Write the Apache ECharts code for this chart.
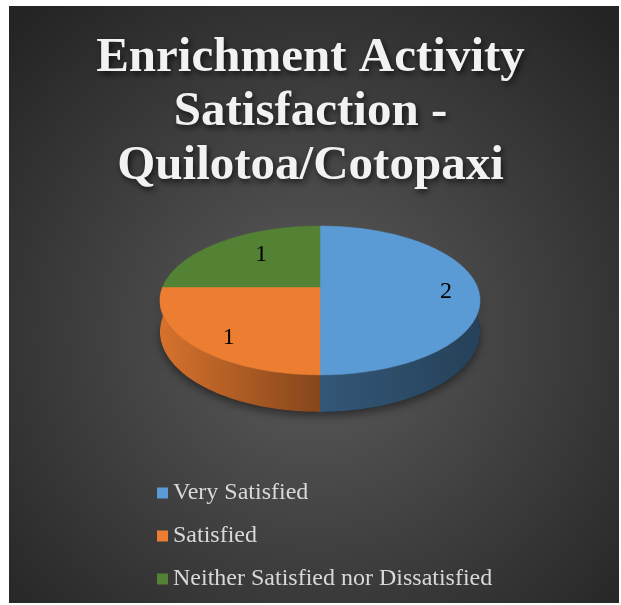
<!DOCTYPE html>
<html>
<head>
<meta charset="utf-8">
<script src="https://cdn.jsdelivr.net/npm/echarts@6/dist/echarts.min.js"></script>
<style>
  html, body { margin: 0; padding: 0; background: #fff; }
  #main { width: 621px; height: 605px; }
</style>
</head>
<body>
<div id="main"></div>
<script>
var titleLines = ['Enrichment Activity', 'Satisfaction -', 'Quilotoa/Cotopaxi'];
var categories = ['Very Satisfied', 'Satisfied', 'Neither Satisfied nor Dissatisfied'];
var counts = [2, 1, 1];
var sliceColors = ['#5B9BD5', '#ED7D31', '#548235'];

var serif = 'Liberation Serif';
var chart = echarts.init(document.getElementById('main'));

// tilted disc, a little perspective so the front half looks bigger
var cx = 320, cy = 287, R = 157.4, RY = 72, P = 0.181, DEPTH = 30.3;
var total = counts.reduce(function (a, b) { return a + b; }, 0);

function proj(theta, r, down) {
  var sn = Math.sin(theta) * r;
  var s = 1 / (1 - P * sn);
  return [cx + R * Math.cos(theta) * r * s, cy + RY * sn * s + (down || 0) * s];
}

function shade(hex, f) {
  var n = parseInt(hex.slice(1), 16);
  var r = Math.round(((n >> 16) & 255) * f);
  var g = Math.round(((n >> 8) & 255) * f);
  var b = Math.round((n & 255) * f);
  return 'rgb(' + r + ',' + g + ',' + b + ')';
}

function arcPoints(a0, a1, down) {
  var pts = [];
  var n = Math.max(2, Math.ceil(Math.abs(a1 - a0) / 0.03));
  for (var k = 0; k <= n; k++) {
    pts.push(proj(a0 + (a1 - a0) * k / n, 1, down));
  }
  return pts;
}

function makeRender(i) {
  return function (params, api) {
    var v = api.value(0);
    var before = 0;
    for (var k = 0; k < i; k++) before += counts[k];
    var a0 = -Math.PI / 2 + 2 * Math.PI * before / total;
    var a1 = a0 + 2 * Math.PI * v / total;
    var color = sliceColors[i];
    var children = [];

    // front wall, only where the rim faces the viewer
    [[0, Math.PI], [2 * Math.PI, 3 * Math.PI]].forEach(function (rng) {
      var s0 = Math.max(a0, rng[0]), s1 = Math.min(a1, rng[1]);
      if (s1 - s0 < 1e-6) return;
      var pts = arcPoints(s0, s1, 0).concat(arcPoints(s1, s0, DEPTH));
      children.push({
        type: 'polygon', z2: 0, shape: { points: pts },
        style: { fill: 'rgba(0,0,0,0.55)', shadowBlur: 10, shadowColor: 'rgba(0,0,0,0.85)', shadowOffsetY: 4 }
      });
      children.push({
        type: 'polygon', z2: 1, shape: { points: pts },
        style: {
          fill: {
            type: 'linear', global: true, x: cx - R, y: 0, x2: cx + R, y2: 0,
            colorStops: [
              { offset: 0, color: shade(color, 0.9) },
              { offset: 0.5, color: shade(color, 0.56) },
              { offset: 1, color: shade(color, 0.42) }
            ]
          }
        }
      });
    });

    // top face
    var top = [[cx, cy]].concat(arcPoints(a0, a1, 0));
    children.push({
      type: 'polygon', z2: 2, shape: { points: top },
      style: { fill: color, stroke: color, lineWidth: 0.5 }
    });

    var mid = (a0 + a1) / 2;
    var lp = proj(mid, 0.8, 0);
    // excel pulls the back-left labels a bit toward the middle
    var pull = Math.sin(mid) < 0 && Math.cos(mid) < 0 ? 22 : (Math.cos(mid) < 0 ? 8 : 0);
    children.push({
      type: 'text', z2: 3, x: lp[0] + pull, y: lp[1] + 5,
      style: {
        text: String(v), fill: '#000', fontFamily: serif, fontSize: 24,
        align: 'center', verticalAlign: 'middle',
        textAlign: 'center', textVerticalAlign: 'middle'
      }
    });

    return { type: 'group', children: children };
  };
}

var option = {
  animation: false,
  color: sliceColors,
  textStyle: { fontFamily: serif },
  graphic: [{
    type: 'rect', z: -10, shape: { x: 9, y: 6, width: 610, height: 597 },
    style: {
      fill: {
        type: 'radial', x: 0.5, y: 0.55, r: 0.72,
        colorStops: [{ offset: 0, color: '#5c5c5c' }, { offset: 1, color: '#242424' }]
      }
    }
  }],
  title: {
    text: titleLines.join('\n'),
    left: 'center',
    top: 26,
    textStyle: {
      fontFamily: serif, fontSize: 49, fontWeight: 'bold', color: '#F2F2F2', lineHeight: 54,
      textShadowColor: 'rgba(0,0,0,0.7)', textShadowBlur: 6, textShadowOffsetX: 2, textShadowOffsetY: 3
    }
  },
  legend: {
    orient: 'vertical', left: 157, top: 481, padding: 0,
    itemWidth: 11, itemHeight: 11, itemGap: 19, icon: 'rect',
    selectedMode: false,
    data: categories,
    textStyle: { fontFamily: serif, fontSize: 24, color: '#D9D9D9', lineHeight: 24 }
  },
  series: categories.map(function (name, i) {
    return {
      type: 'custom',
      name: name,
      coordinateSystem: 'none',
      silent: true,
      itemStyle: { color: sliceColors[i] },
      data: [[counts[i]]],
      renderItem: makeRender(i)
    };
  })
};

chart.setOption(option);
</script>
</body>
</html>
